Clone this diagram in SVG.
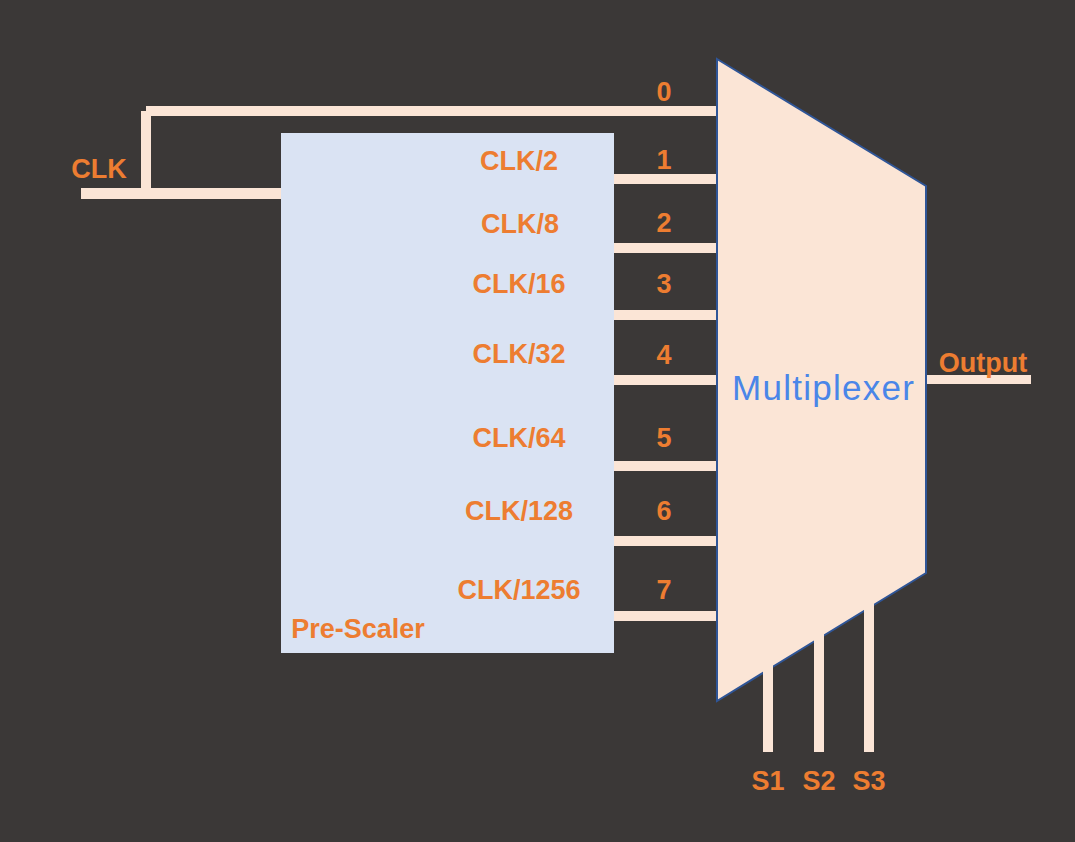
<svg xmlns="http://www.w3.org/2000/svg" width="1075" height="842" viewBox="0 0 1075 842">
<style>
.bg{fill:#3B3837}
.w{fill:#FBE5D6}
.lbl{font-family:"Liberation Sans",Arial,sans-serif;font-weight:bold;font-size:27px;fill:#ED7D31;text-anchor:middle}
.mux{fill:#FBE5D6;stroke:#2F5597;stroke-width:2}
.ps{fill:#DAE3F3}
</style>
<rect class="bg" x="0" y="0" width="1075" height="842"/>
<g id="connectors">
  <rect class="w" x="81" y="188" width="200" height="11"/>
  <rect class="w" x="141" y="111" width="10" height="80"/>
  <rect class="w" x="146" y="106" width="571" height="10"/>
  <rect class="w" x="613" y="174" width="104" height="10"/>
  <rect class="w" x="613" y="243" width="104" height="10"/>
  <rect class="w" x="613" y="310" width="104" height="10"/>
  <rect class="w" x="613" y="375" width="104" height="10"/>
  <rect class="w" x="613" y="461" width="104" height="10"/>
  <rect class="w" x="613" y="536" width="104" height="10"/>
  <rect class="w" x="613" y="611" width="104" height="10"/>
  <rect class="w" x="927" y="375" width="104" height="9"/>
  <text class="lbl" x="664" y="101">0</text>
  <text class="lbl" x="664" y="169">1</text>
  <text class="lbl" x="664" y="232">2</text>
  <text class="lbl" x="664" y="293">3</text>
  <text class="lbl" x="664" y="364">4</text>
  <text class="lbl" x="664" y="447">5</text>
  <text class="lbl" x="664" y="520">6</text>
  <text class="lbl" x="664" y="599">7</text>
</g>
<g id="clk">
  <text class="lbl" x="99" y="178" font-size="26">CLK</text>
</g>
<g id="prescaler">
  <rect class="ps" x="281" y="133" width="333" height="520"/>
  <text class="lbl" x="519" y="170">CLK/2</text>
  <text class="lbl" x="520" y="233">CLK/8</text>
  <text class="lbl" x="519" y="293">CLK/16</text>
  <text class="lbl" x="519" y="363">CLK/32</text>
  <text class="lbl" x="519" y="447">CLK/64</text>
  <text class="lbl" x="519" y="520">CLK/128</text>
  <text class="lbl" x="519" y="599">CLK/1256</text>
  <text class="lbl" x="358" y="638">Pre-Scaler</text>
</g>
<g id="multiplexer">
  <polygon class="mux" points="717,59 926,186 926,573 717,701"/>
  <text x="732" y="400" font-family="Liberation Sans, Arial, sans-serif" font-size="35" fill="#4A86E8" textLength="182" lengthAdjust="spacing">Multiplexer</text>
</g>
<g id="output">
  <text class="lbl" x="983" y="372">Output</text>
</g>
<g id="selects">
  <rect class="w" x="763" y="664" width="10" height="88"/>
  <rect class="w" x="814" y="632" width="10" height="120"/>
  <rect class="w" x="864" y="601" width="10" height="151"/>
  <text class="lbl" x="768" y="790">S1</text>
  <text class="lbl" x="819" y="790">S2</text>
  <text class="lbl" x="869" y="790">S3</text>
</g>
</svg>
